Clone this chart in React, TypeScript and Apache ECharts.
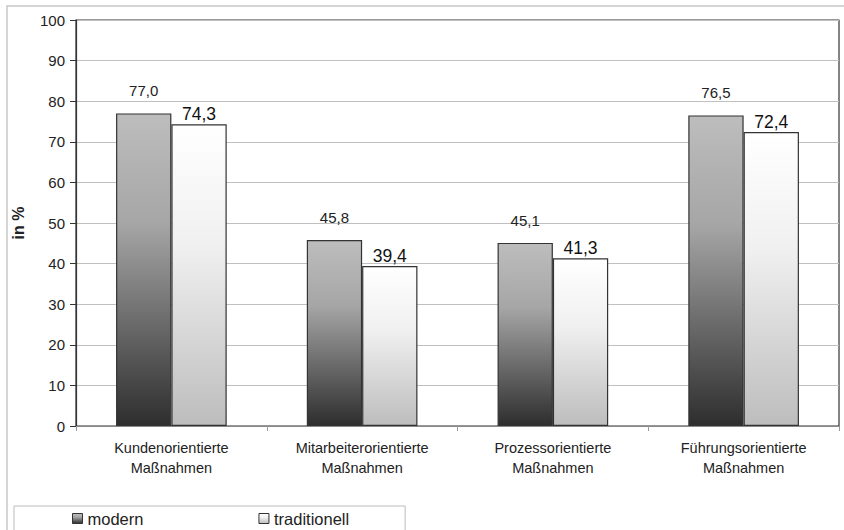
import React, { useEffect, useRef } from "react";
import * as echarts from "echarts";

const categories = [
  "Kundenorientierte\nMaßnahmen",
  "Mitarbeiterorientierte\nMaßnahmen",
  "Prozessorientierte\nMaßnahmen",
  "Führungsorientierte\nMaßnahmen",
];
const modern = [77.0, 45.8, 45.1, 76.5];
const traditionell = [74.3, 39.4, 41.3, 72.4];
const yTicks = [0, 10, 20, 30, 40, 50, 60, 70, 80, 90, 100];

const FONT = "Liberation Sans, Arial, sans-serif";
const fmt = (p: any) => Number(p.value).toFixed(1).replace(".", ",");

export default function App() {
  const ref = useRef<HTMLDivElement>(null);
  useEffect(() => {
    const chart = echarts.init(ref.current!, null, { renderer: "svg" });
    chart.setOption({
      animation: false,
      backgroundColor: "#ffffff",
      textStyle: { fontFamily: FONT },
      graphic: [
        {
          type: "rect",
          shape: { x: 7, y: 6, width: 860, height: 560 },
          style: { fill: "none", stroke: "#c8c8c8", lineWidth: 1.5 },
          z: -10,
        },
      ],
      grid: {
        left: 76,
        right: 5,
        top: 20,
        bottom: 104,
        show: true,
        borderColor: "#333333",
        borderWidth: 1.2,
      },
      legend: {
        left: 14,
        top: 506,
        padding: [4, 56, 10, 58],
        itemGap: 115,
        itemWidth: 10,
        itemHeight: 10,
        icon: "rect",
        borderColor: "#bbbbbb",
        borderWidth: 1,
        textStyle: { fontSize: 16.5, color: "#222", fontFamily: FONT },
        itemStyle: { borderColor: "#333", borderWidth: 1 },
        data: ["modern", "traditionell"],
      },
      xAxis: {
        type: "category",
        data: categories,
        axisLine: { show: true, lineStyle: { color: "#888888", width: 1.2 } },
        axisTick: { show: true, length: 5, lineStyle: { color: "#999999" } },
        axisLabel: {
          fontSize: 14.5,
          color: "#222",
          lineHeight: 20,
          margin: 12,
          fontFamily: FONT,
        },
      },
      yAxis: {
        type: "value",
        min: 0,
        max: 100,
        interval: 10,
        name: "in %",
        nameLocation: "middle",
        nameGap: 50,
        nameTextStyle: { fontSize: 16, fontWeight: "bold", color: "#222", fontFamily: FONT },
        axisLine: { show: true, lineStyle: { color: "#333333", width: 1.2 } },
        axisTick: { show: true, length: 6, lineStyle: { color: "#333333" } },
        axisLabel: {
          fontSize: 15,
          color: "#222",
          margin: 11,
          fontFamily: FONT,
          formatter: (v: number) => (yTicks.includes(v) ? String(v) : ""),
        },
        splitLine: { show: true, lineStyle: { color: "#c0c0c0", width: 1 } },
      },
      series: [
        {
          name: "modern",
          type: "bar",
          data: modern,
          barWidth: "29%",
          barGap: "0%",
          itemStyle: {
            borderColor: "#333333",
            borderWidth: 1.2,
            color: new echarts.graphic.LinearGradient(0, 0, 0, 1, [
              { offset: 0, color: "#bdbdbd" },
              { offset: 0.35, color: "#a6a6a6" },
              { offset: 1, color: "#2e2e2e" },
            ]),
          },
          label: {
            show: true,
            position: "top",
            distance: 15,
            fontSize: 15,
            color: "#222",
            fontFamily: FONT,
            formatter: fmt,
          },
        },
        {
          name: "traditionell",
          type: "bar",
          data: traditionell,
          barWidth: "29%",
          itemStyle: {
            borderColor: "#333333",
            borderWidth: 1.2,
            color: new echarts.graphic.LinearGradient(0, 0, 0, 1, [
              { offset: 0, color: "#ffffff" },
              { offset: 0.4, color: "#f0f0f0" },
              { offset: 1, color: "#bdbdbd" },
            ]),
          },
          label: {
            show: true,
            position: "top",
            distance: 1,
            fontSize: 17.5,
            color: "#111",
            fontFamily: FONT,
            formatter: fmt,
          },
        },
      ],
    });
    return () => chart.dispose();
  }, []);
  return <div ref={ref} style={{ width: 844, height: 530, position: "absolute", left: 0, top: 0 }} />;
}
